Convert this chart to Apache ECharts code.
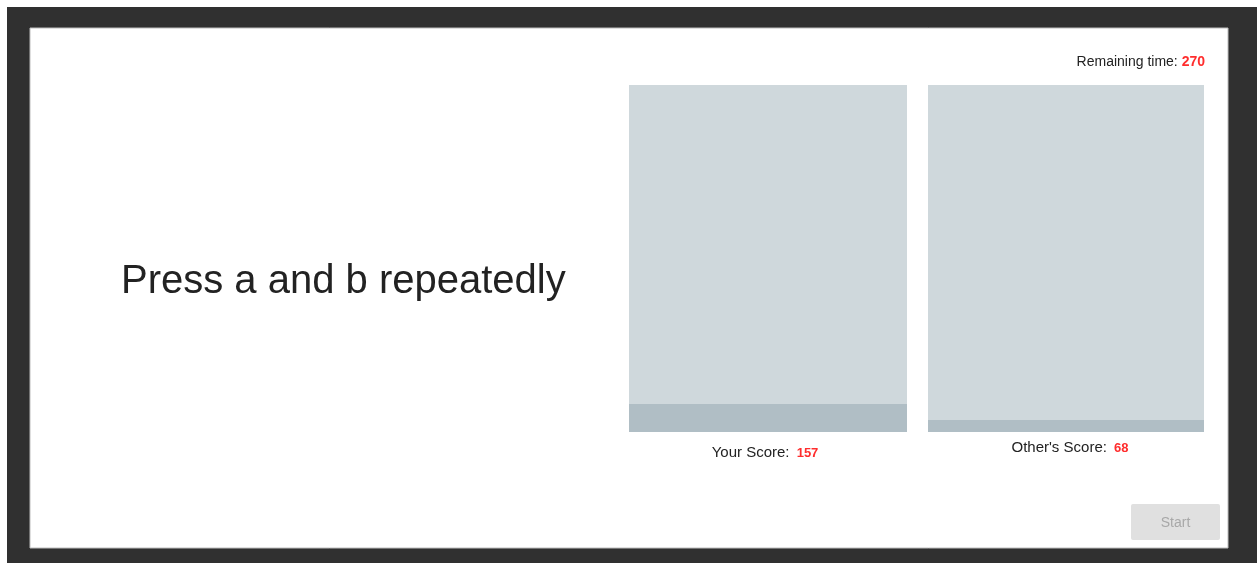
<!DOCTYPE html>
<html>
<head>
<meta charset="utf-8">
<script src="https://cdn.jsdelivr.net/npm/echarts@6/dist/echarts.min.js"></script>
<style>
html,body{margin:0;padding:0;background:#fff;}
#chart{width:1257px;height:563px;}
</style>
</head>
<body>
<div id="chart"></div>
<script>
const title = "Press a and b repeatedly";
const categories = ["Your Score", "Other's Score"];
const scores = [157, 68];
const scoreMax = 1950;
const remainingLabel = "Remaining time:";
const remainingTime = 270;
const buttonLabel = "Start";

const FONT = '"Liberation Sans", Arial, Helvetica, sans-serif';
const chart = echarts.init(document.getElementById('chart'), null, {renderer: 'canvas'});

const grids = [
  {left: 629, top: 85, width: 278, height: 347},
  {left: 928, top: 85, width: 276, height: 347}
];
const labelPos = [[765, 453], [1070, 448]];

const option = {
  animation: false,
  backgroundColor: '#ffffff',
  grid: grids.map(g => Object.assign({show: true, backgroundColor: '#cfd8dc', borderWidth: 0}, g)),
  xAxis: grids.map((g, i) => ({gridIndex: i, type: 'category', data: [categories[i]], show: false})),
  yAxis: grids.map((g, i) => ({gridIndex: i, type: 'value', min: 0, max: scoreMax, show: false})),
  series: scores.map((v, i) => ({
    type: 'bar', xAxisIndex: i, yAxisIndex: i, data: [v], barWidth: '100%',
    itemStyle: {color: '#b0bec5'}, silent: true
  })),
  graphic: [
    {type: 'rect', z: -10, shape: {x: 7, y: 7, width: 1250, height: 556}, style: {fill: '#303030'}},
    {type: 'rect', z: -9, shape: {x: 30, y: 28, width: 1198, height: 520}, style: {fill: '#ffffff', stroke: '#bdbdbd', lineWidth: 1}},
    {type: 'text', z: 5, x: 121, y: 282, style: {text: title, font: '40px ' + FONT, fill: '#222222', verticalAlign: 'middle'}},
    {type: 'text', z: 5, x: 1205, y: 62, style: {
      text: '{a|' + remainingLabel + ' }{b|' + remainingTime + '}', align: 'right', verticalAlign: 'middle',
      rich: {a: {font: '14px ' + FONT, fill: '#222'}, b: {font: 'bold 14px ' + FONT, fill: '#ff2d2d'}}
    }},
    ...scores.map((v, i) => ({
      type: 'text', z: 5, x: labelPos[i][0], y: labelPos[i][1],
      style: {
        text: '{a|' + categories[i] + ': }{b|' + v + '}', align: 'center', verticalAlign: 'middle',
        rich: {a: {font: '15px ' + FONT, fill: '#222'}, b: {font: 'bold 13px ' + FONT, fill: '#ff2d2d', padding: [0, 0, 0, 3]}}
      }
    })),
    {type: 'rect', z: 5, shape: {x: 1131, y: 504, width: 89, height: 36, r: 2}, style: {fill: '#e0e0e0'}},
    {type: 'text', z: 6, x: 1175.5, y: 523, style: {text: buttonLabel, align: 'center', verticalAlign: 'middle', font: '14px ' + FONT, fill: '#a8a8a8'}}
  ]
};
chart.setOption(option);
</script>
</body>
</html>
